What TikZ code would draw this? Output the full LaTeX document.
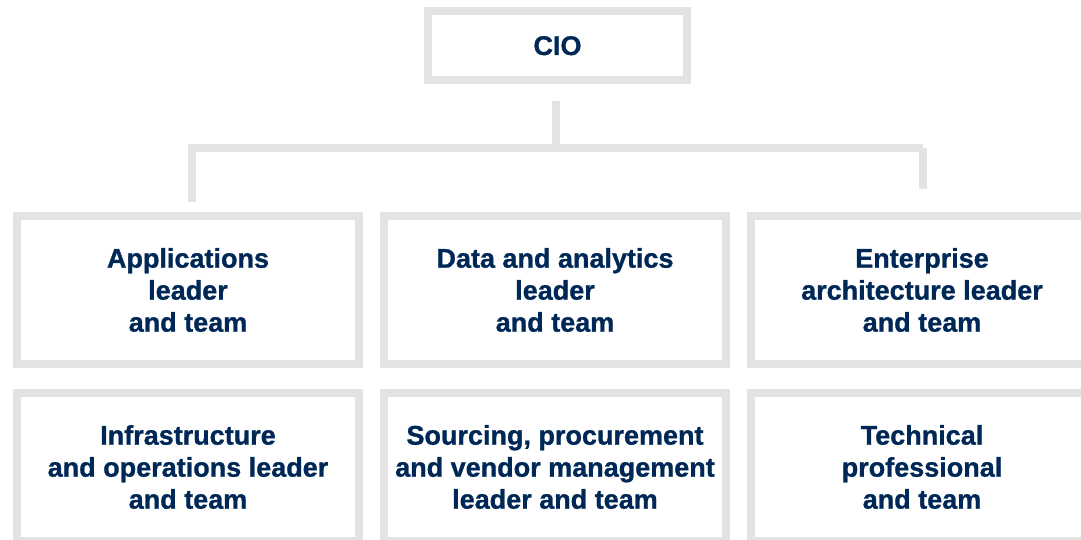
\documentclass[tikz,border=0pt]{standalone}
\usepackage{fontspec}
\setmainfont{Liberation Sans}[BoldFeatures={FakeBold=1}]
\definecolor{linegray}{HTML}{E2E3E2}
\definecolor{navy}{HTML}{002856}
\tikzset{
  orgbox/.style={draw=linegray, line width=8pt, inner sep=0pt, outer sep=0pt,
    minimum width=342pt, minimum height=148pt, align=center, text=navy,
    font=\fontsize{27}{32}\selectfont\bfseries},
  ciobox/.style={orgbox, minimum width=259pt, minimum height=69pt},
  conn/.style={draw=linegray, line width=8pt, line cap=butt, line join=miter}
}
\begin{document}
\begin{tikzpicture}[x=1pt,y=-1pt]
\clip (0,0) rectangle (1081,539);
\fill[white] (0,0) rectangle (1081,539);
\node[ciobox] (cio) at (557.5,45.7) {CIO};
\node[orgbox] (app) at (188,290) {Applications\\leader\\and team};
\node[orgbox] (data) at (555,290) {Data and analytics\\leader\\and team};
\node[orgbox] (ent) at (922,290) {Enterprise\\architecture leader\\and team};
\node[orgbox] (infra) at (188,467) {Infrastructure\\and operations leader\\and team};
\node[orgbox] (src) at (555,467) {Sourcing, procurement\\and vendor management\\leader and team};
\node[orgbox] (tech) at (922,467) {Technical\\professional\\and team};
\coordinate (top) at (556,100.7);
\coordinate (mid) at (556,144);
\coordinate (lend) at (192,202);
\coordinate (lcorner) at (192,148);
\coordinate (rcorner) at (922.7,148);
\coordinate (rend) at (922.7,189);
\draw[conn] (top) -- (mid);
\draw[conn] (lend) -- (lcorner) -- (rcorner);
\draw[conn] (rcorner) -- (rend);
\end{tikzpicture}
\end{document}
